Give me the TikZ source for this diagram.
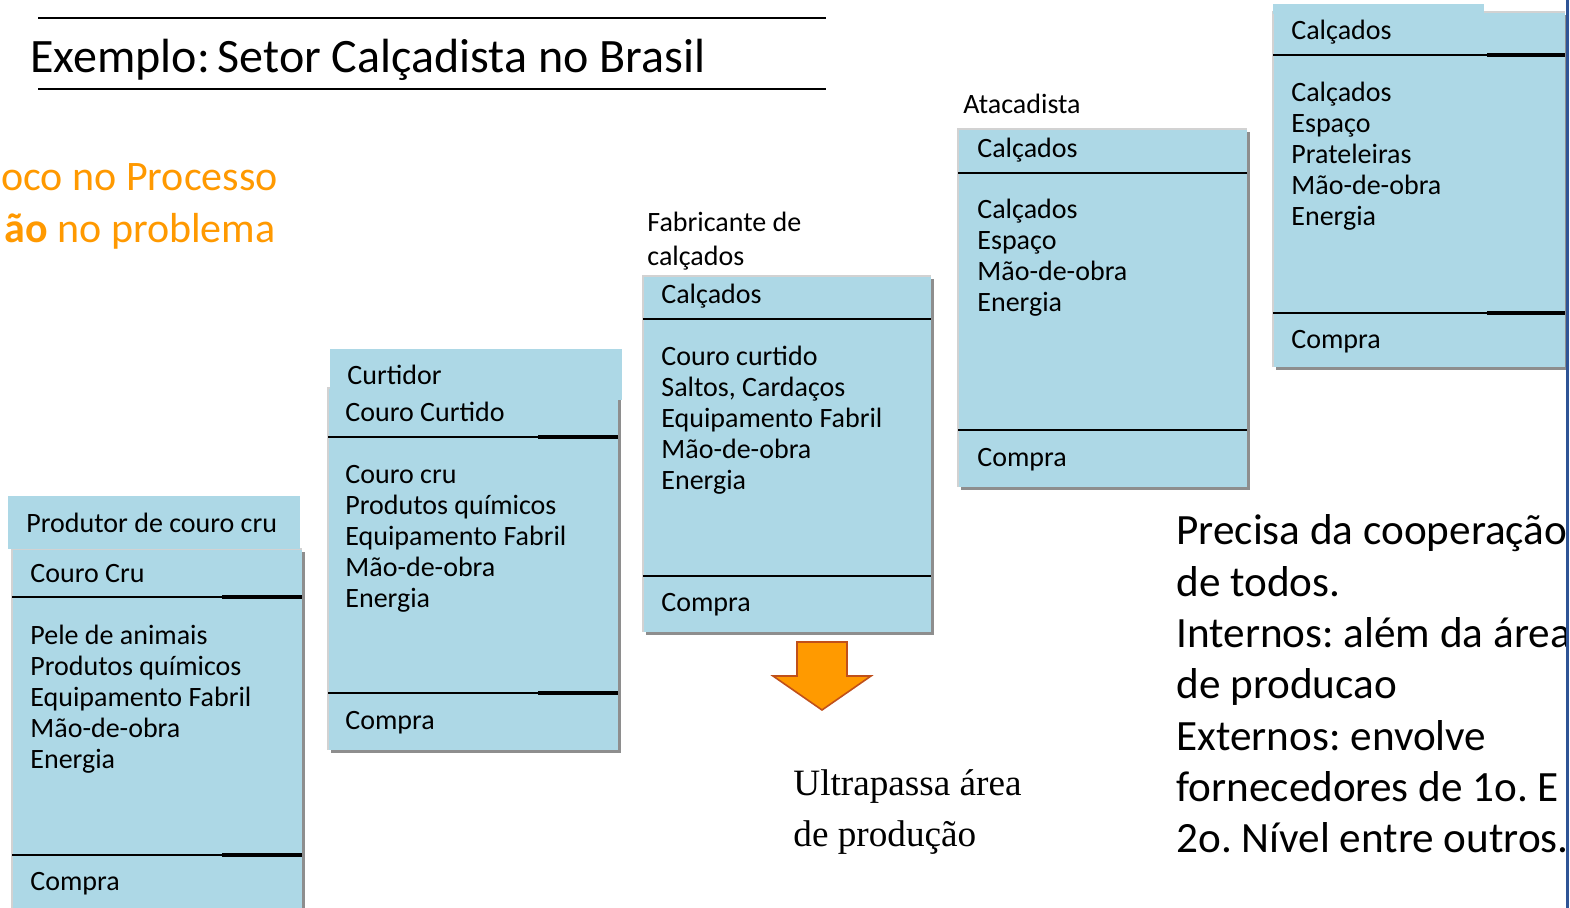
\documentclass[tikz,border=0pt]{standalone}
\usepackage{fontspec}
\setmainfont{Carlito}
\newfontfamily\garafont{Liberation Serif}
\frenchspacing
\definecolor{boxblue}{HTML}{ADD8E6}
\definecolor{shadowgray}{HTML}{8E8E8E}
\definecolor{edgegray}{HTML}{D2D2D2}
\definecolor{orangetxt}{HTML}{FF9900}
\definecolor{arrowfill}{HTML}{FF9A00}
\definecolor{arrowedge}{HTML}{C0501A}
\definecolor{edgeblue}{HTML}{2F5496}
\newcommand\shbox[4]{%
  \fill[shadowgray] (#1+3,#2+3) rectangle (#3+3,#4+3);
  \fill[boxblue] (#1,#2) rectangle (#3,#4);
  \draw[edgegray, line width=0.6pt] (#1,#4) -- (#1,#2) -- (#3,#2);
}
\newcommand\divline[4]{% x1, x2, y, xthick
  \draw[line width=1pt] (#1,#3) -- (#2,#3);
  \draw[line width=1.6pt] (#4,#3) -- (#2,#3);
}
\begin{document}
\begin{tikzpicture}[x=0.5pt,y=-0.5pt,
  boxtxt/.style={font=\fontsize{14}{15.5}\selectfont, inner sep=0pt, anchor=base west},
  bigtxt/.style={font=\fontsize{21.6}{25.6}\selectfont, inner sep=0pt, anchor=base west},
  orangestyle/.style={font=\fontsize{21}{26}\selectfont, text=orangetxt, inner sep=0pt},
  titlestyle/.style={font=\fontsize{24}{28}\selectfont, inner sep=0pt, anchor=base west},
  serifstyle/.style={font=\garafont\fontsize{18.6}{25.5}\selectfont, inner sep=0pt, anchor=base west},
  ruleline/.style={line width=1.3pt}
]
\useasboundingbox (0,0) rectangle (1570,908);
\fill[white] (0,0) rectangle (1570,908);

% title
\node[titlestyle] (title) at (30,73) {Exemplo:\kern-1.5pt\ Setor Calçadista no Brasil};
\draw[ruleline] (38,18) -- (826,18);
\draw[ruleline] (38,89) -- (826,89);

% orange text
\node[orangestyle, anchor=base west] (or1) at (1,191) {oco no Processo};
\node[orangestyle, anchor=base east] (or2) at (276,243) {\textbf{ão} no problema};

% ---- box 1: Produtor de couro cru
\shbox{12}{549}{302}{912}
\fill[boxblue] (8,496) rectangle (300,549);
\divline{12}{302}{597}{222}
\divline{12}{302}{855}{222}
\node[boxtxt] (p-head) at (26,533) {Produtor de couro cru};
\node[boxtxt] (p-prod) at (30,583) {Couro Cru};
\foreach \t [count=\i] in {Pele de animais, Produtos químicos, Equipamento Fabril, Mão-de-obra, Energia}
  \node[boxtxt] (p-\i) at (30,{645+31*(\i-1)}) {\t};
\node[boxtxt] (p-compra) at (30,891) {Compra};

% ---- box 2: Curtidor
\shbox{328}{388}{618}{750}
\fill[boxblue] (330,349) rectangle (622,400);
\divline{328}{618}{437}{538}
\divline{328}{618}{693}{538}
\node[boxtxt] (c-head) at (347,385) {Curtidor};
\node[boxtxt] (c-prod) at (345,422) {Couro Curtido};
\foreach \t [count=\i] in {Couro cru, Produtos químicos, Equipamento Fabril, Mão-de-obra, Energia}
  \node[boxtxt] (c-\i) at (345,{484+31*(\i-1)}) {\t};
\node[boxtxt] (c-compra) at (345,730) {Compra};

% ---- box 3: Fabricante de calçados
\node[boxtxt] (f-lab1) at (647,232) {Fabricante de};
\node[boxtxt] (f-lab2) at (647,266) {calçados};
\shbox{643}{276}{931}{632}
\draw[line width=1pt] (643,319) -- (931,319);
\draw[line width=1pt] (643,576) -- (931,576);
\node[boxtxt] (f-prod) at (661,304) {Calçados};
\foreach \t [count=\i] in {Couro curtido, {Saltos, Cardaços}, Equipamento Fabril, Mão-de-obra, Energia}
  \node[boxtxt] (f-\i) at (661,{366+31*(\i-1)}) {\t};
\node[boxtxt] (f-compra) at (661,612) {Compra};

% ---- box 4: Atacadista
\node[boxtxt] (a-lab) at (963,114) {Atacadista};
\shbox{958}{129}{1247}{487}
\draw[line width=1pt] (958,173) -- (1247,173);
\draw[line width=1pt] (958,430) -- (1247,430);
\node[boxtxt] (a-prod) at (977,158) {Calçados};
\foreach \t [count=\i] in {Calçados, Espaço, Mão-de-obra, Energia}
  \node[boxtxt] (a-\i) at (977,{219+31*(\i-1)}) {\t};
\node[boxtxt] (a-compra) at (977,467) {Compra};

% ---- box 5
\shbox{1273}{12}{1565}{367}
\fill[boxblue] (1273,4) rectangle (1484,14);
\divline{1273}{1565}{55}{1487}
\divline{1273}{1565}{313}{1487}
\node[boxtxt] (v-prod) at (1291,40) {Calçados};
\foreach \t [count=\i] in {Calçados, Espaço, Prateleiras, Mão-de-obra, Energia}
  \node[boxtxt] (v-\i) at (1291,{102+31*(\i-1)}) {\t};
\node[boxtxt] (v-compra) at (1291,349) {Compra};

% ---- block arrow
\filldraw[fill=arrowfill, draw=arrowedge, line width=0.8pt, line join=miter]
  (797,642) -- (847,642) -- (847,676) -- (871,676) -- (822,710) -- (773,676) -- (797,676) -- cycle;

% ---- serif caption
\node[serifstyle] (u-1) at (793,796) {Ultrapassa área};
\node[serifstyle] (u-2) at (793,847) {de produção};

% ---- right text
\foreach \t [count=\i] in {Precisa da cooperação, de todos., Internos: além da área, de producao, Externos: envolve, fornecedores de 1o. E, 2o. Nível entre outros.}
  \node[bigtxt] (r-\i) at (1176,{545+51.3*(\i-1)}) {\t};

% right edge line
\draw[edgeblue, line width=1.5pt] (1567.5,0) -- (1567.5,908);
\end{tikzpicture}
\end{document}
